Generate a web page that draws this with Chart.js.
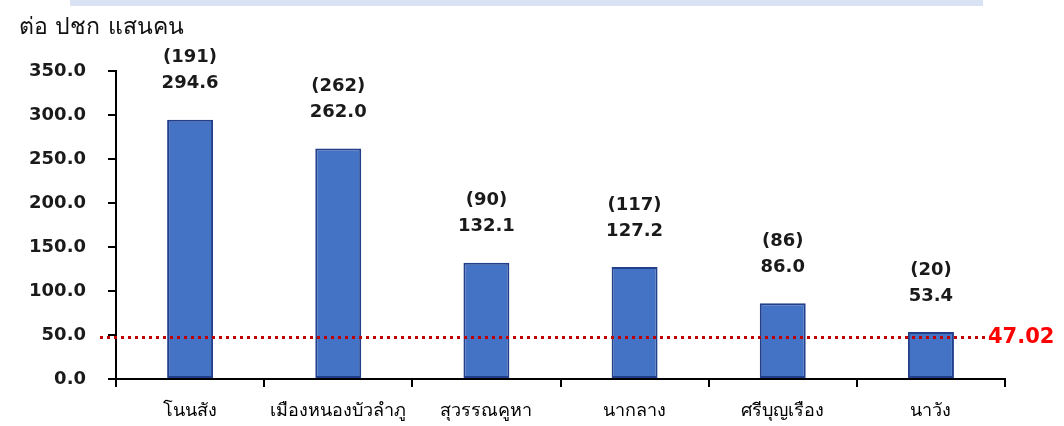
<!DOCTYPE html>
<html>
<head>
<meta charset="utf-8">
<script src="https://cdn.jsdelivr.net/npm/chart.js@4/dist/chart.umd.min.js"></script>
<style>
  html, body { margin: 0; padding: 0; background: #fff; }
  #wrap { width: 1064px; height: 426px; position: relative; }
</style>
</head>
<body>
<div id="wrap"><canvas id="barChart"></canvas></div>
<script>
const districts = ['โนนสัง', 'เมืองหนองบัวลำภู', 'สุวรรณคูหา', 'นากลาง', 'ศรีบุญเรือง', 'นาวัง'];
const ratePer100k = [294.6, 262.0, 132.1, 127.2, 86.0, 53.4];
const caseCounts = [191, 262, 90, 117, 86, 20];
const yTicks = [0, 50, 100, 150, 200, 250, 300, 350];
const provinceRate = 47.02;

const unitTitle = 'ต่อ ปชก แสนคน';
const fontFamily = '"DejaVu Sans", "Noto Sans", sans-serif';

// header band, unit title, value labels and the dotted province line
const extras = {
    id: 'extras',
    beforeDraw(chart) {
        const ctx = chart.ctx;
        ctx.save();
        ctx.fillStyle = '#dae3f3';
        ctx.fillRect(70, 0, 913, 6);
        ctx.fillStyle = '#111';
        ctx.font = '23px ' + fontFamily;
        ctx.textBaseline = 'middle';
        ctx.textAlign = 'left';
        ctx.fillText(unitTitle, 19, 28);
        ctx.restore();
    },
    afterDatasetsDraw(chart) {
        const ctx = chart.ctx;
        const meta = chart.getDatasetMeta(0);
        ctx.save();
        ctx.fillStyle = '#1a1a1a';
        ctx.font = 'bold 18px ' + fontFamily;
        ctx.textAlign = 'center';
        ctx.textBaseline = 'middle';
        meta.data.forEach((bar, i) => {
            ctx.fillText(ratePer100k[i].toFixed(1), bar.x, bar.y - 36);
            ctx.fillText('(' + caseCounts[i] + ')', bar.x, bar.y - 62);
        });

        const y = chart.scales.y.getPixelForValue(provinceRate);
        const area = chart.chartArea;
        ctx.strokeStyle = '#c00000';
        ctx.lineWidth = 3;
        ctx.setLineDash([3, 4]);
        ctx.beginPath();
        ctx.moveTo(area.left - 16, y);
        ctx.lineTo(area.right - 20, y);
        ctx.stroke();
        ctx.setLineDash([]);
        ctx.fillStyle = '#ff0000';
        ctx.font = 'bold 21px ' + fontFamily;
        ctx.textAlign = 'left';
        ctx.fillText(provinceRate.toFixed(2), area.right - 17, y);
        ctx.restore();
    }
};

new Chart(document.getElementById('barChart'), {
    type: 'bar',
    data: {
        labels: districts,
        datasets: [{
            data: ratePer100k,
            backgroundColor: '#4472c4',
            borderColor: '#223f8c',
            borderWidth: 2,
            borderSkipped: false,
            barPercentage: 0.31,
            categoryPercentage: 1.0
        }]
    },
    options: {
        responsive: true,
        maintainAspectRatio: false,
        animation: false,
        layout: { padding: { top: 71, right: 59, left: 0, bottom: 0 } },
        plugins: {
            legend: { display: false },
            tooltip: { enabled: false }
        },
        scales: {
            x: {
                afterFit(scale) { scale.height = 47; },
                border: { color: '#000', width: 2 },
                grid: { drawOnChartArea: false, drawTicks: true, tickLength: 8, color: '#000', lineWidth: 2, offset: true },
                ticks: {
                    color: '#000',
                    font: { family: fontFamily, size: 18 },
                    padding: 14
                }
            },
            y: {
                min: 0,
                max: 350,
                afterFit(scale) { scale.width = 116; },
                afterBuildTicks(scale) { scale.ticks = yTicks.map(v => ({ value: v })); },
                border: { color: '#000', width: 2 },
                grid: { drawOnChartArea: false, drawTicks: true, tickLength: 8, color: '#000', lineWidth: 2 },
                ticks: {
                    color: '#1a1a1a',
                    font: { family: fontFamily, size: 18, weight: 'bold' },
                    padding: 22,
                    callback: v => v.toFixed(1)
                }
            }
        }
    },
    plugins: [extras]
});
</script>
</body>
</html>
